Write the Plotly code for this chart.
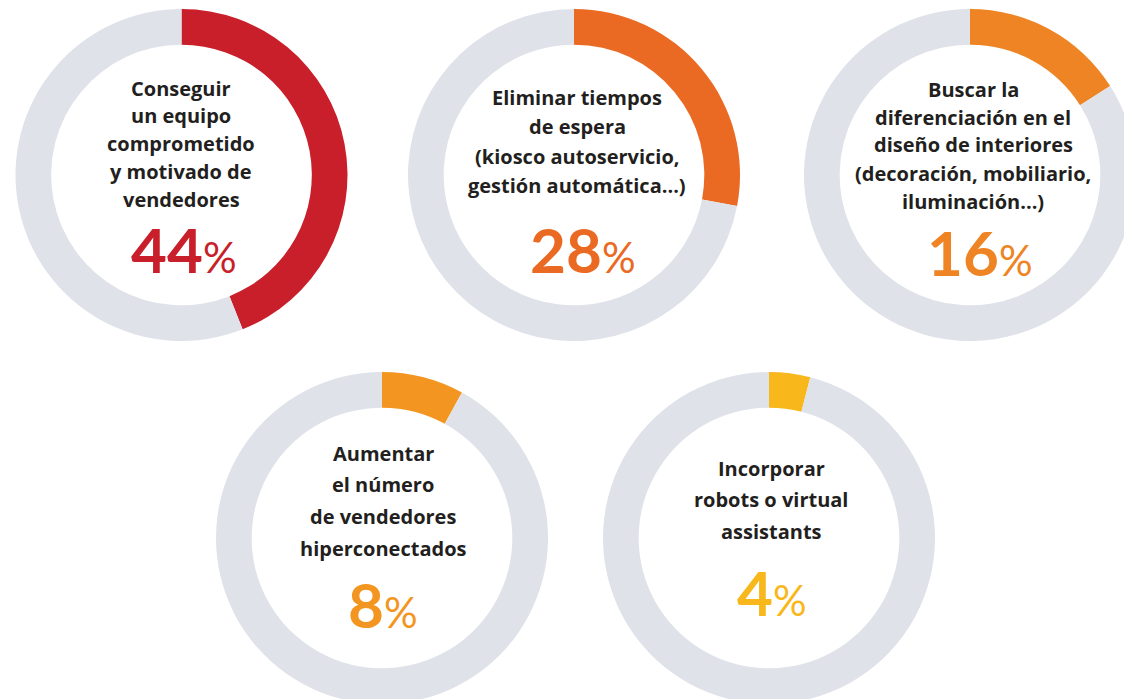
import plotly.graph_objects as go

# ---- data ----
categories = [
    "Conseguir un equipo comprometido y motivado de vendedores",
    "Eliminar tiempos de espera (kiosco autoservicio, gestión automática...)",
    "Buscar la diferenciación en el diseño de interiores (decoración, mobiliario, iluminación...)",
    "Aumentar el número de vendedores hiperconectados",
    "Incorporar robots o virtual assistants",
]
label_lines = [
    ["Conseguir", "un equipo", "comprometido", "y motivado de", "vendedores"],
    ["Eliminar tiempos", "de espera", "(kiosco autoservicio,", "gestión automática...)"],
    ["Buscar la", "diferenciación en el", "diseño de interiores", "(decoración, mobiliario,", "iluminación...)"],
    ["Aumentar", "el número", "de vendedores", "hiperconectados"],
    ["Incorporar", "robots o virtual", "assistants"],
]
percentages = [44, 28, 16, 8, 4]

# ---- styles / layout (pixels in a 1140x710 canvas, visible window 1124x699) ----
W, H = 1140, 710
colors = ["#C81F2B", "#EA6A23", "#EE8424", "#F39621", "#F8B71A"]
rest_color = "#DFE2E9"
text_color = "#231F20"
centers = [(181.5, 175), (574, 175), (970, 175), (382, 538), (769, 538)]
radius = 166
label_x = [181, 577, 973, 383, 771]
label_y0 = [88, 97, 89, 453, 468]
label_dy = [27.8, 29.6, 28, 31.7, 31.5]
pct_pos = [(184, 249), (583, 249), (980, 252), (383, 604), (772, 592)]
LABEL_FONT = "'Open Sans', Lato, sans-serif"
PCT_FONT = "Lato, 'Open Sans', sans-serif"

fig = go.Figure()
annotations = []
for i, (cat, p) in enumerate(zip(categories, percentages)):
    cx, cy = centers[i]
    fig.add_trace(go.Pie(
        values=[p, 100 - p],
        labels=[cat, "Resto"],
        sort=False,
        direction="clockwise",
        rotation=0,
        hole=0.785,
        textinfo="none",
        hoverinfo="label+percent",
        marker=dict(colors=[colors[i], rest_color], line=dict(width=0)),
        domain=dict(x=[(cx - radius) / W, (cx + radius) / W],
                    y=[1 - (cy + radius) / H, 1 - (cy - radius) / H]),
        showlegend=False,
    ))
    for k, line in enumerate(label_lines[i]):
        annotations.append(dict(
            x=label_x[i] / W, y=1 - (label_y0[i] + k * label_dy[i]) / H,
            xref="paper", yref="paper", showarrow=False,
            xanchor="center", yanchor="middle",
            text=f"<b>{line}</b>",
            font=dict(family=LABEL_FONT, size=20, color=text_color),
        ))
    px, py = pct_pos[i]
    annotations.append(dict(
        x=px / W, y=1 - py / H, xref="paper", yref="paper", showarrow=False,
        xanchor="center", yanchor="middle",
        text=f"<b>{p}</b><span style='font-size:42px'>%</span>",
        font=dict(family=PCT_FONT, size=62, color=colors[i]),
    ))

fig.update_layout(
    width=W, height=H,
    margin=dict(l=0, r=0, t=0, b=0),
    paper_bgcolor="white", plot_bgcolor="white",
    annotations=annotations,
)

fig.write_html(
    "out.html",
    config={"displayModeBar": False},
    post_script="document.body.style.margin='0';document.body.style.overflow='hidden';document.documentElement.style.overflow='hidden';",
)
